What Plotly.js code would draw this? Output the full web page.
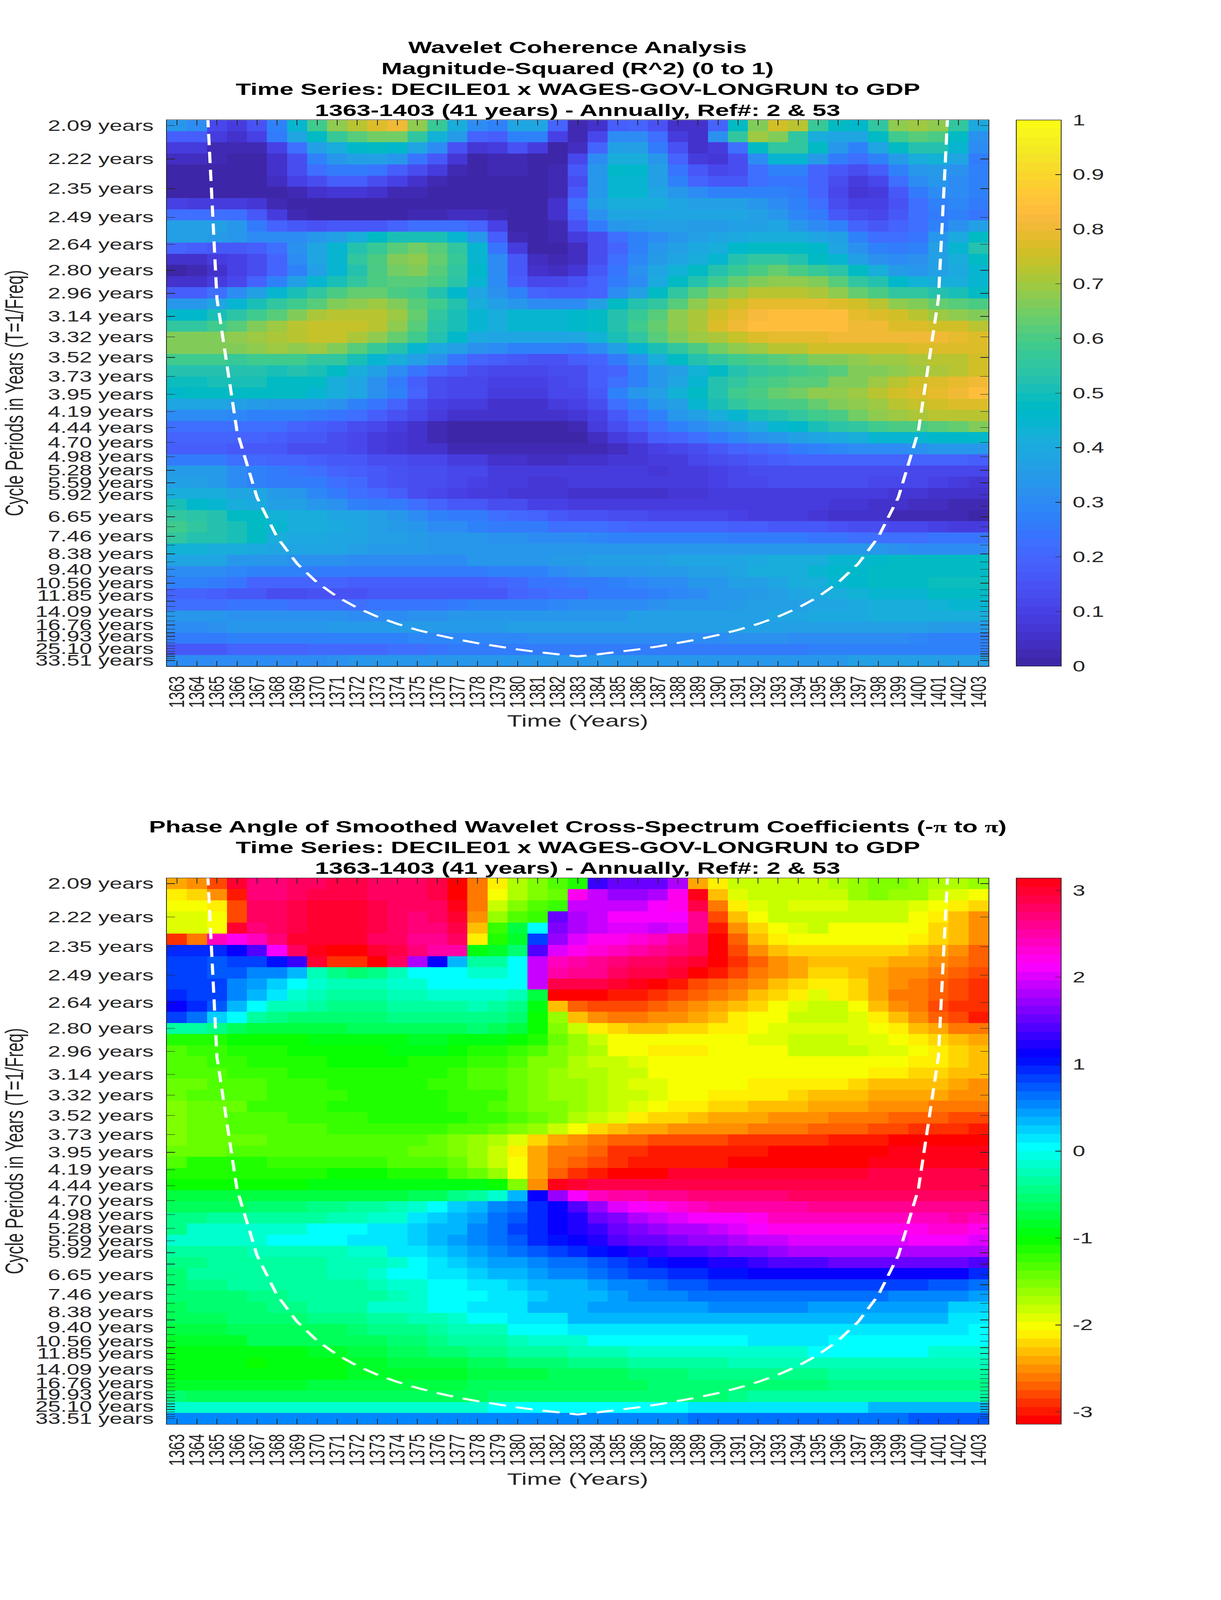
<!DOCTYPE html>
<html><head><meta charset="utf-8">
<script src="https://cdn.plot.ly/plotly-3.0.1.min.js"></script>
<style>html,body{margin:0;padding:0;background:#fff;overflow:hidden}#chart{transform-origin:0 0}</style></head>
<body><div id="chart" style="width:3125px;height:6252px"></div>
<script>
const years=[1363,1364,1365,1366,1367,1368,1369,1370,1371,1372,1373,1374,1375,1376,1377,1378,1379,1380,1381,1382,1383,1384,1385,1386,1387,1388,1389,1390,1391,1392,1393,1394,1395,1396,1397,1398,1399,1400,1401,1402,1403];
const periods=[2.09,2.22,2.35,2.49,2.64,2.80,2.96,3.14,3.32,3.52,3.73,3.95,4.19,4.44,4.70,4.98,5.28,5.59,5.92,6.27,6.65,7.04,7.46,7.90,8.38,8.88,9.40,9.96,10.56,11.19,11.85,12.56,13.30,14.09,14.93,15.82,16.76,17.75,18.81,19.93,21.11,22.37,23.70,25.10,26.60,28.18,29.85,31.63,33.51];
const labelledPeriods=[2.09,2.22,2.35,2.49,2.64,2.80,2.96,3.14,3.32,3.52,3.73,3.95,4.19,4.44,4.70,4.98,5.28,5.59,5.92,6.65,7.46,8.38,9.40,10.56,11.85,14.09,16.76,19.93,25.10,33.51];
const coiYears=[1364,1365,1366,1367,1368,1369,1370,1371,1372,1373,1374,1375,1376,1377,1378,1379,1380,1381,1382,1383,1384,1385,1386,1387,1388,1389,1390,1391,1392,1393,1394,1395,1396,1397,1398,1399,1400,1401,1402];
const coiPeriods=[1.5,3,4.5,6,7.5,9,10.5,12,13.5,15,16.5,18,19.5,21,22.5,24,25.5,27,28.5,30,28.5,27,25.5,24,22.5,21,19.5,18,16.5,15,13.5,12,10.5,9,7.5,6,4.5,3,1.5];
const titleTop=["Wavelet Coherence Analysis","Magnitude-Squared (R^2) (0 to 1)","Time Series: DECILE01 x WAGES-GOV-LONGRUN to GDP","1363-1403 (41 years) - Annually, Ref#: 2 & 53"];
const titleBottom=["Phase Angle of Smoothed Wavelet Cross-Spectrum Coefficients (-<span style=\"font-family:'Liberation Serif'\">π</span> to <span style=\"font-family:'Liberation Serif'\">π</span>)","Time Series: DECILE01 x WAGES-GOV-LONGRUN to GDP","1363-1403 (41 years) - Annually, Ref#: 2 & 53"];
const parula=["0.2422,0.1504,0.6603","0.2504,0.1650,0.7076","0.2578,0.1818,0.7511","0.2647,0.1978,0.7952","0.2706,0.2147,0.8364","0.2751,0.2342,0.8710","0.2783,0.2559,0.8991","0.2803,0.2782,0.9221","0.2813,0.3006,0.9414","0.2810,0.3228,0.9579","0.2795,0.3447,0.9717","0.2760,0.3667,0.9829","0.2699,0.3892,0.9906","0.2602,0.4123,0.9952","0.2440,0.4358,0.9988","0.2206,0.4603,0.9973","0.1963,0.4847,0.9892","0.1834,0.5074,0.9798","0.1786,0.5289,0.9682","0.1764,0.5499,0.9520","0.1687,0.5703,0.9359","0.1540,0.5902,0.9218","0.1460,0.6091,0.9079","0.1380,0.6276,0.8973","0.1248,0.6459,0.8883","0.1113,0.6635,0.8763","0.0952,0.6798,0.8598","0.0689,0.6948,0.8394","0.0297,0.7082,0.8163","0.0036,0.7203,0.7917","0.0067,0.7312,0.7660","0.0433,0.7411,0.7394","0.0964,0.7500,0.7120","0.1408,0.7584,0.6842","0.1717,0.7670,0.6554","0.1938,0.7758,0.6251","0.2161,0.7843,0.5923","0.2470,0.7918,0.5567","0.2906,0.7973,0.5188","0.3406,0.8008,0.4789","0.3909,0.8029,0.4354","0.4456,0.8024,0.3909","0.5044,0.7993,0.3480","0.5616,0.7942,0.3045","0.6174,0.7876,0.2612","0.6720,0.7793,0.2227","0.7242,0.7698,0.1910","0.7738,0.7598,0.1646","0.8203,0.7498,0.1535","0.8634,0.7406,0.1596","0.9035,0.7330,0.1774","0.9393,0.7288,0.2100","0.9728,0.7298,0.2394","0.9956,0.7434,0.2371","0.9970,0.7659,0.2199","0.9952,0.7893,0.2028","0.9892,0.8136,0.1885","0.9786,0.8386,0.1766","0.9676,0.8639,0.1643","0.9610,0.8890,0.1537","0.9597,0.9135,0.1423","0.9628,0.9373,0.1265","0.9691,0.9606,0.1064","0.9769,0.9839,0.0805"];

// Coherence, in percent, one row per period (top to bottom)
const c01=[33,30,12,8,15, 27,45,58,68,73, 77,80,68,57,42, 30,28,38,38,20, 3,6,18,20,15, 5,5,20,47,66, 76,72,57,48,46, 55,68,70,68,55, 40];
const c02=[18,18,8,5,10, 25,38,47,57,62, 65,65,55,43,35, 20,18,28,28,10, 2,12,30,30,22, 8,5,32,55,70, 66,55,42,38,38, 47,58,62,60,47, 32];
const c03=[9,8,3,3,3, 10,22,36,42,46, 48,46,38,30,15, 7,8,15,8,1, 4,20,36,36,25, 15,6,8,22,47, 56,56,47,33,28, 38,47,52,52,45, 30];
const c04=[4,4,3,1,1, 6,14,28,34,36, 36,33,24,17,7, 1,3,3,0,0, 12,30,42,42,33, 20,8,7,14,30, 44,44,35,25,22, 28,35,42,43,38, 26];
const c05=[1,1,1,1,1, 5,13,23,25,25, 24,18,14,8,2, 1,2,2,0,3, 16,33,46,46,36, 24,16,11,14,23, 28,28,20,16,13, 18,28,34,35,32, 28];
const c06=[1,1,1,1,1, 4,10,14,18,18, 14,10,6,2,1, 1,1,1,0,2, 14,33,45,45,37, 27,20,16,16,22, 24,24,20,14,9, 12,22,30,33,30, 28];
const c07=[1,1,1,0,0, 0,2,5,7,7, 5,3,2,0,0, 0,0,0,0,3, 17,33,44,44,38, 33,30,28,28,27, 27,25,19,12,7, 8,17,26,30,30, 28];
const c08=[10,9,9,9,7, 2,0,0,0,1, 0,0,0,0,0, 1,1,0,0,5, 22,36,42,42,42, 38,37,36,36,33, 31,28,22,14,10, 10,15,22,28,29, 26];
const c09=[22,22,22,22,16, 8,2,1,1,1, 1,1,3,3,4, 4,2,0,0,5, 20,32,38,38,38, 38,38,38,38,36, 33,29,25,17,14, 12,17,22,26,28, 24];
const c10=[37,37,36,33,26, 20,16,15,16,16, 17,20,22,22,22, 20,10,0,0,3, 15,25,33,35,36, 36,35,35,36,37, 38,34,30,27,20, 17,19,22,27,32, 36];
const c11=[37,37,35,33,30, 30,30,34,37,42, 47,50,50,50,45, 33,18,3,0,2, 8,14,22,28,30, 33,36,38,40,42, 42,42,38,36,28, 22,22,24,33,40, 47];
const c12=[20,18,17,17,18, 23,32,38,45,52, 57,62,65,62,55, 45,24,8,0,0, 4,13,20,28,33, 37,40,42,46,48, 48,48,46,38,32, 28,25,28,36,45, 52];
const c13=[6,6,8,10,14, 20,30,38,44,55, 60,66,68,64,57, 45,30,16,4,2, 4,14,22,29,35, 39,42,45,52,55, 55,52,47,44,37, 32,30,32,36,42, 47];
const c14=[1,2,6,10,14, 20,28,37,44,53, 60,65,66,62,55, 46,30,17,6,4, 7,16,24,32,38, 43,48,53,57,60, 63,60,57,54,47, 42,35,34,36,40, 45];
const c15=[5,6,8,12,20, 28,37,44,50,56, 60,62,62,60,54, 45,30,18,12,12, 15,20,25,30,40, 47,53,58,64,66, 68,68,66,62,55, 52,46,43,42,42, 44];
const c16=[18,18,22,30,36, 44,50,55,60,64, 64,60,58,52,46, 38,32,27,20,18, 18,20,30,36,47, 55,62,66,70,73, 73,73,71,68,64, 60,56,55,52,50, 48];
const c17=[34,34,38,45,50, 55,58,62,66,68, 70,66,62,58,52, 42,37,33,30,30, 30,37,47,52,56, 62,68,72,76,79, 79,79,79,77,75, 73,68,66,64,62, 60];
const c18=[46,46,50,54,58, 62,66,71,73,73, 73,70,63,56,50, 45,42,44,44,44, 46,48,52,57,62, 68,71,75,79,82, 83,83,83,83,79, 77,75,72,70,68, 66];
const c19=[56,56,58,62,66, 70,73,74,74,74, 73,68,62,54,50, 45,42,44,44,44, 46,48,53,58,64, 68,71,77,80,83, 83,83,83,83,80, 80,77,77,75,75, 73];
const c20=[66,66,66,68,70, 71,73,74,74,71, 68,64,58,52,46, 40,38,38,38,38, 38,43,50,56,62, 66,70,71,74,77, 79,79,79,80,80, 80,80,81,81,79, 77];
const c21=[66,66,66,66,68, 70,68,70,66,62, 57,52,44,40,36, 32,30,28,28,28, 26,30,36,45,50, 55,60,65,68,70, 72,73,75,75,75, 75,75,77,77,77, 77];
const c22=[58,58,58,57,58, 58,58,56,55,50, 45,42,36,32,24, 20,18,16,15,15, 18,20,25,32,42, 47,52,56,58,60, 62,63,66,66,68, 70,70,71,73,73, 75];
const c23=[52,52,52,52,52, 50,52,50,47,42, 36,30,24,19,16, 14,12,12,12,14, 14,18,20,28,33, 36,43,48,52,55, 57,58,60,62,66, 66,68,70,71,73, 75];
const c24=[49,49,50,50,50, 48,47,47,42,38, 32,26,18,14,12, 12,10,10,10,12, 14,18,22,27,33, 38,45,52,55,58, 60,62,62,66,66, 70,73,75,77,79, 81];
const c25=[46,47,47,47,47, 47,47,44,42,38, 32,27,20,14,12, 11,9,9,9,11, 12,16,27,33,36, 43,48,53,58,60, 64,65,68,68,70, 73,75,77,79,80, 83];
const c26=[38,39,39,36,35, 33,33,33,32,28, 24,20,14,10,9, 8,6,6,6,8, 10,14,22,27,33, 37,45,50,55,58, 60,60,64,66,68, 70,73,74,75,77, 77];
const c27=[30,30,30,29,28, 27,27,26,24,22, 18,15,11,8,6, 6,5,5,5,5, 7,10,17,22,28, 33,36,42,45,50, 52,55,58,60,65, 68,70,71,73,73, 73];
const c28=[23,23,23,23,22, 22,20,18,17,14, 12,9,6,3,1, 0,0,0,0,1, 3,8,13,18,22, 27,30,34,37,40, 44,46,50,54,56, 58,60,60,62,64, 66];
const c29=[20,20,20,20,20, 18,17,16,14,11, 9,7,5,3,1, 0,0,0,0,0, 1,4,8,12,18, 20,23,26,29,32, 34,36,38,40,42, 44,45,45,46,46, 46];
const c30=[18,18,18,17,17, 16,14,13,13,11, 9,7,6,5,3, 3,3,3,3,3, 3,3,4,7,10, 12,14,17,19,21, 22,25,27,29,30, 31,31,32,33,33, 33];
const c31=[25,25,25,23,21, 20,19,18,17,16, 14,13,12,11,9, 8,5,5,4,4, 5,5,7,7,9, 9,11,13,15,17, 18,20,20,20,20, 20,20,20,20,20, 18];
const c32=[35,35,35,31,27, 26,24,22,20,18, 16,15,14,13,12, 11,9,9,9,9, 9,9,8,8,7, 8,8,10,12,13, 14,14,14,14,14, 14,13,12,12,11, 11];
const c33=[36,36,35,30,27, 26,25,25,23,21, 17,15,14,13,11, 10,8,8,7,7, 8,8,8,8,8, 8,9,10,11,12, 13,13,13,13,13, 12,12,11,10,9, 7];
const c34=[42,42,42,39,38, 35,33,29,26,23, 21,18,14,12,10, 9,8,7,7,7, 6,6,6,6,6, 7,7,8,8,8, 9,9,9,9,9, 8,7,7,6,5, 5];
const c35=[50,46,44,42,40, 37,36,34,32,28, 26,26,22,20,17, 16,14,13,10,10, 9,9,9,9,9, 9,9,9,9,8, 8,8,8,7,7, 6,5,4,4,3, 3];
const c36=[55,54,52,48,47, 43,42,41,39,38, 36,33,30,28,25, 25,22,21,20,17, 15,15,14,13,12, 12,12,11,10,9, 8,8,7,6,6, 5,3,3,3,3, 0];
const c37=[58,55,53,50,48, 45,42,41,40,38, 36,35,33,31,30, 28,26,25,25,23, 22,22,21,20,20, 20,19,19,18,18, 17,17,16,15,14, 13,12,12,10,9, 9];
const c38=[55,53,52,50,48, 42,40,40,38,38, 36,36,35,34,33, 33,32,32,31,31, 30,29,28,28,28, 28,27,27,26,25, 25,25,24,24,23, 23,22,23,24,24, 24];
const c39=[43,43,42,41,40, 38,38,38,38,36, 35,35,35,34,34, 34,34,34,33,33, 33,33,33,33,33, 33,34,34,34,33, 33,33,33,33,33, 33,32,30,30,30, 30];
const c40=[38,38,38,34,33, 33,32,32,32,31, 31,31,31,30,30, 33,33,34,34,35, 35,36,37,37,37, 38,38,38,39,40, 42,42,42,44,45, 46,47,47,47,47, 47];
const c41=[31,31,31,29,27, 27,27,26,26,26, 26,25,25,25,25, 26,28,28,28,30, 32,33,34,34,35, 35,37,37,39,41, 42,42,44,46,46, 47,47,47,48,48, 48];
const c42=[27,27,26,24,20, 20,20,19,19,18, 18,18,18,18,18, 18,20,21,24,24, 26,26,28,29,31, 31,33,34,36,37, 39,41,42,44,46, 47,47,47,49,49, 49];
const c43=[20,20,18,17,17, 14,14,15,15,15, 16,16,16,16,16, 17,17,20,21,23, 23,25,26,26,28, 29,31,33,34,35, 37,39,40,42,43, 44,44,44,47,47, 47];
const c44=[23,23,23,24,24, 24,22,22,22,23, 24,24,24,24,26, 27,27,28,28,29, 30,30,30,31,32, 33,33,34,35,36, 37,37,38,39,40, 41,42,42,43,44, 44];
const c45=[34,34,33,32,32, 32,32,32,32,31, 31,31,32,32,33, 33,33,33,33,33, 34,34,34,36,36, 36,36,37,37,37, 38,38,40,40,40, 41,41,41,41,41, 41];
const c46=[31,31,32,33,33, 33,33,34,35,35, 35,35,35,35,35, 35,35,36,36,36, 36,37,37,37,36, 36,36,36,36,36, 37,37,37,37,37, 37,37,36,35,35, 35];
const c47=[26,26,26,27,27, 27,28,28,28,28, 28,28,29,29,29, 29,29,29,30,30, 30,30,30,30,30, 30,31,31,32,32, 32,31,31,31,30, 30,30,29,28,28, 28];
const c48=[17,17,17,20,20, 20,20,21,21,21, 21,22,23,24,25, 25,25,25,25,25, 25,26,26,26,26, 26,26,26,26,26, 26,26,27,27,27, 27,27,27,27,27, 27];
const c49=[30,30,30,30,30, 30,31,31,32,33, 33,33,33,33,33, 33,33,33,33,34, 34,34,33,33,33, 33,33,33,33,33, 33,33,33,34,36, 36,36,36,36,36, 36];

// Phase angle, in tenths of a radian, one row per period (top to bottom)
const p01=[-24,-25,-28,30,27, 27,28,28,29,29, 28,28,28,29,-31, -26,-21,-17,-15,-13, -11,13,15,15,15, 18,-24,-21,-18,-18, -18,-18,-18,-17,-16, -15,-15,-16,-17,-17, -16];
const p02=[-21,-22,-25,-30,27, 27,28,29,29,29, 28,28,28,29,-31, -26,-20,-17,-15,-14, 22,19,17,17,18, 22,31,-23,-19,-18, -18,-18,-18,-18,-16, -15,-16,-16,-18,-19, -20];
const p03=[-20,-20,-21,-28,28, 28,29,30,30,30, 29,28,28,28,31, -26,-18,-15,-13,-12, 19,19,19,19,21, 22,29,-26,-21,-19, -18,-19,-19,-19,-18, -18,-18,-19,-20,-21, -22];
const p04=[-19,-19,-20,-28,28, 28,29,30,30,30, 29,28,27,28,30, -25,-16,-13,-12,15, 18,19,21,21,21, 21,26,-28,-23,-20, -18,-18,-18,-18,-18, -18,-18,-20,-21,-23, -25];
const p05=[-19,-19,-20,30,27, 28,29,30,30,30, 29,28,27,27,29, -23,-12,-7,0,16, 18,19,20,20,19, 20,26,-30,-25,-22, -20,-19,-18,-20,-20, -20,-20,-20,-22,-23, -25];
const p06=[-29,-26,24,22,24, 27,30,30,30,30, 28,28,26,26,28, -21,-11,-8,8,17, 20,22,22,23,24, 26,28,-31,-27,-23, -21,-20,-20,-20,-20, -20,-20,-21,-22,-23, -25];
const p07=[9,9,9,11,14, 21,28,31,-31,-31, 30,29,27,25,25, -9,-8,-5,14,20, 22,23,24,25,26, 27,28,-31,-28,-25, -23,-22,-22,-22,-22, -22,-22,-23,-24,-25, -27];
const p08=[8,8,7,8,8, 10,13,30,-29,-29, -31,28,18,11,3, -3,-3,0,19,24, 25,26,27,28,28, 29,30,-31,-29,-27, -25,-24,-23,-23,-23, -23,-24,-24,-25,-26, -27];
const p09=[8,8,7,7,5, 5,3,-2,-4,-5, -4,-2,0,0,0, -1,-1,0,19,25, 26,26,28,29,29, 30,-31,-30,-28,-26, -25,-24,-22,-22,-23, -24,-25,-25,-26,-27, -28];
const p10=[8,8,8,5,4, 2,0,-1,-2,-2, -2,-1,-1,0,0, 0,0,0,19,29, 29,29,30,31,-31, -30,-28,-27,-26,-25, -23,-22,-21,-21,-22, -24,-25,-26,-27,-28, -29];
const p11=[9,8,8,5,3, 1,-1,-2,-3,-3, -3,-2,-2,-1,-1, -1,-1,-2,-7,-31, -31,-31,-30,-30,-29, -28,-27,-26,-25,-23, -22,-21,-19,-21,-22, -24,-26,-26,-27,-28, -29];
const p12=[11,9,7,3,0, -2,-2,-3,-4,-4, -4,-3,-3,-3,-3, -2,-3,-4,-9,-23, -27,-28,-28,-28,-27, -26,-25,-24,-23,-22, -20,-19,-18,-18,-20, -23,-25,-26,-28,-29, -29];
const p13=[8,6,2,0,-3, -4,-5,-5,-5,-5, -5,-4,-4,-4,-4, -4,-4,-5,-10,-16, -23,-25,-26,-26,-25, -25,-24,-23,-21,-20, -20,-18,-18,-18,-19, -21,-23,-25,-27,-28, -30];
const p14=[-3,-3,-4,-6,-7, -7,-7,-7,-7,-6, -6,-6,-6,-6,-6, -5,-6,-7,-10,-15, -18,-21,-22,-23,-23, -22,-22,-21,-21,-20, -19,-19,-19,-19,-19, -20,-21,-23,-24,-26, -26];
const p15=[-11,-11,-11,-10,-10, -10,-10,-9,-9,-9, -9,-9,-8,-8,-9, -9,-9,-10,-11,-14, -16,-18,-20,-20,-20, -20,-20,-20,-20,-19, -19,-18,-18,-18,-19, -19,-20,-21,-22,-23, -24];
const p16=[-13,-12,-12,-11,-11, -11,-10,-10,-10,-10, -10,-9,-9,-9,-10, -11,-11,-12,-13,-15, -16,-17,-20,-20,-21, -21,-21,-20,-20,-20, -20,-18,-18,-18,-18, -19,-19,-20,-21,-22, -23];
const p17=[-13,-13,-12,-12,-11, -11,-11,-11,-10,-10, -10,-10,-11,-11,-11, -12,-12,-13,-15,-15, -17,-18,-18,-19,-20, -20,-20,-20,-20,-20, -20,-20,-20,-20,-20, -20,-20,-21,-21,-22, -23];
const p18=[-13,-13,-13,-12,-12, -12,-11,-11,-11,-11, -11,-11,-11,-11,-12, -13,-13,-14,-15,-16, -17,-17,-18,-18,-20, -20,-20,-20,-20,-20, -20,-20,-20,-20,-20, -21,-21,-22,-22,-23, -23];
const p19=[-14,-14,-13,-13,-13, -12,-12,-12,-11,-11, -11,-11,-11,-12,-12, -13,-13,-14,-15,-16, -16,-17,-18,-19,-19, -20,-20,-20,-20,-21, -21,-21,-21,-21,-22, -23,-23,-23,-23,-24, -25];
const p20=[-14,-13,-13,-13,-13, -12,-12,-12,-12,-11, -11,-11,-11,-11,-12, -12,-12,-14,-15,-16, -16,-17,-18,-18,-19, -20,-20,-21,-21,-21, -21,-22,-23,-23,-23, -24,-24,-24,-24,-25, -25];
const p21=[-15,-14,-14,-14,-12, -12,-12,-12,-11,-11, -11,-11,-11,-11,-12, -12,-13,-14,-15,-15, -16,-17,-18,-19,-20, -21,-21,-22,-22,-23, -23,-23,-24,-24,-24, -25,-25,-25,-26,-26, -26];
const p22=[-15,-14,-14,-13,-13, -13,-12,-12,-12,-12, -11,-11,-11,-11,-11, -12,-12,-13,-14,-15, -17,-18,-19,-21,-22, -22,-23,-24,-24,-24, -25,-25,-25,-26,-26, -26,-27,-27,-27,-28, -28];
const p23=[-15,-14,-14,-13,-13, -13,-13,-13,-12,-12, -12,-12,-12,-12,-13, -13,-14,-15,-16,-18, -20,-22,-23,-24,-24, -25,-25,-25,-25,-26, -26,-26,-27,-27,-27, -28,-28,-29,-29,-29, -30];
const p24=[-15,-14,-14,-14,-14, -13,-13,-13,-13,-13, -13,-13,-13,-14,-15, -16,-17,-19,-22,-24, -25,-26,-27,-27,-28, -28,-28,-28,-29,-29, -29,-29,-29,-30,-30, -30,-31,-31,-31,-31, -31];
const p25=[-14,-14,-14,-13,-13, -13,-13,-13,-13,-13, -13,-13,-14,-14,-15, -16,-18,-21,-24,-26, -26,-27,-29,-29,-30, -30,-30,-30,-30,-30, -31,-31,-31,-31,-31, -31,31,31,31,31, 31];
const p26=[-13,-11,-11,-11,-11, -12,-12,-12,-12,-12, -12,-13,-13,-13,-14, -16,-18,-20,-24,-26, -27,-28,-29,-30,-30, -30,-30,-30,-31,-31, -31,-31,-31,-31,-31, 31,31,31,31,31, 31];
const p27=[-11,-11,-11,-11,-11, -11,-11,-11,-10,-10, -10,-11,-11,-11,-13, -14,-16,-20,-24,-27, -29,-30,-31,-31,-31, 30,30,30,30,30, 30,30,30,30,30, 29,29,29,29,29, 29];
const p28=[-10,-10,-10,-10,-10, -10,-10,-9,-9,-9, -9,-9,-9,-9,-9, -9,-10,-15,-25,31, 30,29,29,29,29, 29,29,29,29,29, 29,29,29,29,29, 29,29,29,29,29, 29];
const p29=[-7,-7,-7,-7,-7, -7,-7,-7,-7,-7, -7,-7,-6,-6,-4, -3,-1,3,11,17, 21,24,25,25,26, 26,27,27,27,27, 27,28,28,28,28, 28,28,28,28,28, 28];
const p30=[-6,-6,-6,-6,-5, -5,-5,-4,-4,-3, -3,-2,-1,0,2, 3,5,6,9,11, 14,17,20,21,22, 23,24,25,25,25, 25,25,26,26,26, 26,26,26,26,26, 26];
const p31=[-4,-4,-3,-3,-3, -3,-3,-3,-2,-2, -1,-1,1,2,3, 4,6,7,9,11, 12,15,16,18,19, 20,21,21,21,22, 24,24,24,24,24, 24,24,24,24,25, 24];
const p32=[-4,-1,-1,-1,-1, -1,-1,0,0,0, 1,1,2,3,3, 5,6,8,9,11, 12,13,15,16,17, 18,18,19,20,21, 22,22,22,22,22, 22,22,22,23,23, 22];
const p33=[-1,-1,-1,-1,-1, 0,0,0,0,1, 1,1,2,3,4, 5,6,7,9,10, 11,12,14,15,15, 16,17,17,18,19, 19,20,20,20,20, 20,20,21,21,21, 20];
const p34=[-3,-3,-3,-3,-2, -2,-2,-2,-2,-1, -1,1,1,2,3, 4,5,6,7,8, 9,10,11,12,13, 14,14,15,16,16, 17,18,18,18,18, 18,18,18,18,18, 18];
const p35=[-4,-4,-3,-3,-3, -3,-3,-3,-2,-2, -2,-1,0,1,2, 3,4,4,5,6, 6,7,8,9,10, 11,11,12,12,13, 14,14,14,15,15, 15,15,15,15,15, 14];
const p36=[-5,-3,-3,-3,-3, -3,-3,-3,-2,-2, -1,0,0,1,1, 2,3,3,4,5, 5,6,7,8,8, 9,9,10,10,11, 11,11,11,11,11, 11,11,11,11,11, 9];
const p37=[-5,-4,-4,-3,-3, -3,-3,-3,-3,-3, -2,-1,-1,0,0, 1,1,2,3,3, 3,4,5,5,6, 7,7,8,8,8, 8,8,8,8,8, 8,8,8,7,7, 6];
const p38=[-5,-5,-5,-5,-4, -4,-3,-3,-3,-3, -3,-2,-1,0,0, 0,1,1,2,3, 3,3,4,5,5, 5,6,6,6,6, 6,6,6,6,6, 6,5,5,5,5, 4];
const p39=[-6,-5,-5,-5,-5, -4,-4,-3,-3,-3, -1,-1,-1,0,0, 1,1,1,3,3, 3,4,4,4,4, 4,4,5,5,5, 5,5,4,4,4, 4,4,4,4,2, 2];
const p40=[-6,-6,-6,-5,-5, -5,-5,-4,-4,-4, -3,-3,-2,-2,-1, 0,0,1,1,1, 3,3,3,3,3, 3,3,3,3,3, 3,3,3,3,3, 3,3,3,3,1, 1];
const p41=[-7,-7,-7,-6,-6, -6,-6,-6,-6,-5, -4,-4,-4,-3,-2, -2,-2,0,0,0, 1,1,1,1,1, 1,1,1,1,1, 1,1,1,1,1, 1,1,1,1,1, 0];
const p42=[-8,-8,-8,-8,-6, -6,-6,-6,-6,-6, -6,-5,-5,-4,-3, -3,-3,-2,-1,-1, -1,0,0,0,0, 0,0,0,0,1, 1,1,1,0,0, 0,0,0,0,0, 0];
const p43=[-9,-9,-9,-9,-9, -9,-9,-8,-8,-7, -7,-6,-6,-5,-5, -4,-4,-3,-3,-3, -2,-2,-2,-1,-1, -1,-1,-1,-1,-1, -1,-1,0,0,0, 0,0,0,-1,-1, -1];
const p44=[-9,-9,-9,-9,-10, -9,-9,-9,-9,-8, -8,-7,-7,-7,-7, -6,-6,-5,-5,-5, -4,-4,-4,-3,-3, -3,-3,-3,-2,-2, -2,-2,-2,-2,-2, -2,-2,-2,-2,-2, -2];
const p45=[-9,-9,-9,-9,-9, -9,-9,-9,-9,-8, -8,-8,-8,-8,-8, -7,-7,-7,-7,-6, -6,-6,-6,-5,-5, -5,-4,-4,-4,-4, -4,-4,-4,-3,-3, -3,-3,-3,-3,-3, -3];
const p46=[-8,-8,-8,-8,-8, -8,-8,-7,-7,-7, -7,-7,-7,-7,-7, -6,-6,-6,-6,-6, -6,-6,-6,-6,-5, -5,-5,-5,-5,-5, -5,-5,-5,-4,-4, -4,-4,-4,-4,-4, -4];
const p47=[-5,-6,-6,-6,-6, -6,-6,-6,-6,-6, -6,-6,-6,-6,-6, -6,-5,-5,-5,-5, -5,-5,-5,-5,-5, -5,-5,-5,-4,-3, -3,-3,-3,-3,-3, -3,-3,-3,-3,-3, -3];
const p48=[-1,-1,-1,-1,-1, -1,-1,-1,-1,-1, -1,-1,-1,-1,-1, -1,0,0,0,0, 0,0,0,0,0, 0,1,1,1,1, 1,1,1,1,1, 3,3,3,3,3, 3];
const p49=[5,5,5,5,5, 5,5,5,5,5, 5,5,5,5,5, 5,5,5,5,5, 5,5,5,5,5, 5,6,6,6,6, 6,6,6,6,6, 6,6,7,7,7, 7];

const coherenceRows=[c01,c02,c03,c04,c05,c06,c07,c08,c09,c10,c11,c12,c13,c14,c15,c16,c17,c18,c19,c20,c21,c22,c23,c24,c25,c26,c27,c28,c29,c30,c31,c32,c33,c34,c35,c36,c37,c38,c39,c40,c41,c42,c43,c44,c45,c46,c47,c48,c49];
const phaseRows=[p01,p02,p03,p04,p05,p06,p07,p08,p09,p10,p11,p12,p13,p14,p15,p16,p17,p18,p19,p20,p21,p22,p23,p24,p25,p26,p27,p28,p29,p30,p31,p32,p33,p34,p35,p36,p37,p38,p39,p40,p41,p42,p43,p44,p45,p46,p47,p48,p49];
coherenceRows.concat(phaseRows).forEach((r,i)=>{if(r.length!==41)throw new Error('bad row '+i+' len '+r.length)});

const W=3125,H=6252,NL=64;
function stepped(cols){const s=[];cols.forEach((c,i)=>{s.push([i/NL,c]);s.push([(i+1)/NL,c]);});return s;}
const parulaCols=parula.map(t=>{const v=t.split(',').map(x=>Math.round(parseFloat(x)*255));return `rgb(${v[0]},${v[1]},${v[2]})`;});
const hsvCols=Array.from({length:NL},(_,i)=>`hsl(${(i/NL*360).toFixed(3)},100%,50%)`);

const fTop=1/periods[0],fBot=1/periods[periods.length-1],dF=(fTop-fBot)/(periods.length-1);
const freqs=periods.map(p=>1/p);
const tickText=periods.map(p=>labelledPeriods.includes(p)?p.toFixed(2)+' years':'');
const FONT='"Liberation Sans",Arial,sans-serif',TXT='#262626',FS=58,TS=64;
const plotL=427,plotR=2530,t1=469,b1=2603,t2=3431,b2=5565;
function cb(y0,y1,vals,text){return {thickness:115,thicknessmode:'pixels',len:(y1-y0)/H,lenmode:'fraction',x:2601/W,xanchor:'left',xpad:0,ypad:0,y:1-y1/H,yanchor:'bottom',outlinewidth:2,outlinecolor:TXT,ticks:'inside',ticklen:16,tickwidth:2,tickcolor:TXT,tickvals:vals,ticktext:text.map(s=>'\u00a0'+s),tickfont:{family:FONT,size:FS,color:TXT}};}
const traces=[
 {type:'heatmap',z:coherenceRows.map(r=>r.map(v=>v/100)),x:years,y0:fTop,dy:-dF,zmin:0,zmax:1,zsmooth:false,colorscale:stepped(parulaCols),colorbar:cb(t1,b1,[0,.1,.2,.3,.4,.5,.6,.7,.8,.9,1],['0','0.1','0.2','0.3','0.4','0.5','0.6','0.7','0.8','0.9','1']),xaxis:'x',yaxis:'y'},
 {type:'scatter',mode:'lines',x:coiYears,y:coiPeriods.map(p=>1/p),line:{color:'#fff',width:8,dash:'44px,26px'},xaxis:'x',yaxis:'y',showlegend:false,hoverinfo:'skip'},
 {type:'heatmap',z:phaseRows.map(r=>r.map(v=>v/10)),x:years,y0:fTop,dy:-dF,zmin:-Math.PI,zmax:Math.PI,zsmooth:false,colorscale:stepped(hsvCols),colorbar:cb(t2,b2,[-3,-2,-1,0,1,2,3],['-3','-2','-1','0','1','2','3']),xaxis:'x2',yaxis:'y2'},
 {type:'scatter',mode:'lines',x:coiYears,y:coiPeriods.map(p=>1/p),line:{color:'#fff',width:8,dash:'44px,26px'},xaxis:'x2',yaxis:'y2',showlegend:false,hoverinfo:'skip'}
];
function xax(anchor){return {anchor,domain:[plotL/W,plotR/W],range:[years[0]-.5,years[years.length-1]+.5],tickmode:'array',tickvals:years,ticktext:years.map(String),tickangle:-90,ticks:'inside',ticklen:21,tickwidth:2,tickcolor:TXT,mirror:'ticks',showline:true,linecolor:TXT,linewidth:2,showgrid:false,zeroline:false,ticklabelstandoff:14,tickfont:{family:FONT,size:56,color:TXT},title:{text:'Time (Years)',font:{family:FONT,size:TS,color:TXT},standoff:30},automargin:false};}
function yax(anchor,t,b){return {anchor,domain:[1-b/H,1-t/H],range:[fBot-dF/2,fTop+dF/2],tickmode:'array',tickvals:freqs,ticktext:tickText,ticks:'inside',ticklen:21,tickwidth:2,tickcolor:TXT,mirror:'ticks',showline:true,linecolor:TXT,linewidth:2,showgrid:false,zeroline:false,ticklabelstandoff:20,tickfont:{family:FONT,size:FS,color:TXT},title:{text:'Cycle Periods in Years (T=1/Freq)',font:{family:FONT,size:TS,color:TXT},standoff:10},automargin:false};}
const titleAnn=(text,y)=>({text:text,xref:'paper',yref:'paper',x:(plotL+plotR)/2/W,y:1-y/H,xanchor:'center',yanchor:'middle',showarrow:false,font:{family:FONT,size:TS,color:'#000'}});
const annotations=titleTop.map((t,i)=>titleAnn('<b>'+t+'</b>',186+i*81.5)).concat(titleBottom.map((t,i)=>titleAnn('<b>'+t+'</b>',3231+i*81)));
const layout={width:W,height:H,margin:{l:0,r:0,t:0,b:0},paper_bgcolor:'#fff',plot_bgcolor:'#fff',showlegend:false,font:{family:FONT,color:TXT},xaxis:xax('y'),yaxis:yax('x',t1,b1),xaxis2:xax('y2'),yaxis2:yax('x2',t2,b2),annotations};
Plotly.newPlot('chart',traces,layout,{staticPlot:true,displayModeBar:false}).then(()=>{
  // The browser window may be shorter than the 6252px page: fit the whole figure into its height.
  const fit=Math.min(1,window.innerHeight/H);
  document.getElementById('chart').style.transform=`scaleY(${fit})`;
});
</script></body></html>
